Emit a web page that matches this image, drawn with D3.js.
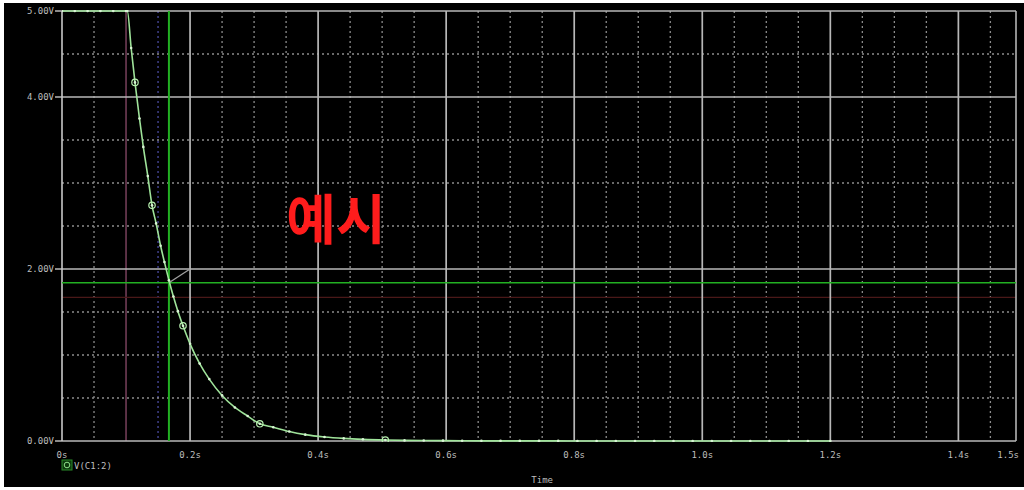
<!DOCTYPE html>
<html>
<head>
<meta charset="utf-8">
<script src="https://cdn.jsdelivr.net/npm/d3@7"></script>
<style>
  html, body { margin: 0; padding: 0; background: #fff; }
  svg { display: block; }
</style>
</head>
<body>
<svg id="chart" width="1024" height="490"></svg>
<script>
// Transient trace V(C1:2): capacitor discharge after the switch at ~0.1 s
const traceTime = [0, 0.02, 0.04, 0.06, 0.08, 0.1, 0.102, 0.108, 0.114, 0.121, 0.127, 0.134,
  0.1406, 0.147, 0.154, 0.160, 0.167, 0.174, 0.181, 0.189, 0.2, 0.215, 0.23, 0.25, 0.27,
  0.29, 0.309, 0.33, 0.355, 0.38, 0.41, 0.44, 0.47, 0.505, 0.535, 0.565, 0.595, 0.625,
  0.655, 0.685, 0.715, 0.745, 0.775, 0.805, 0.835, 0.865, 0.895, 0.925, 0.955, 0.985,
  1.015, 1.045, 1.075, 1.105, 1.135, 1.165, 1.2];
const traceVolt = [5.0, 5.0, 5.0, 5.0, 5.0, 5.0, 5.0, 4.57, 4.17, 3.75, 3.42, 3.08,
  2.74, 2.53, 2.27, 2.08, 1.87, 1.68, 1.51, 1.34, 1.13, 0.90, 0.72, 0.53, 0.39,
  0.29, 0.20, 0.16, 0.11, 0.074, 0.047, 0.03, 0.019, 0.011, 0.007, 0.005, 0.004, 0.003,
  0.002, 0.002, 0.001, 0.001, 0.001, 0, 0, 0, 0, 0, 0, 0,
  0, 0, 0, 0, 0, 0, 0];
// Symbol markers placed along the trace (time values)
const markerTime = [0.114, 0.1406, 0.189, 0.309, 0.505];

// Axis ticks
const xTickValues = [0, 0.2, 0.4, 0.6, 0.8, 1.0, 1.2, 1.4, 1.49];
const xTickLabels = ["0s", "0.2s", "0.4s", "0.6s", "0.8s", "1.0s", "1.2s", "1.4s", "1.5s"];
const yTickValues = [0, 2, 4, 5];
const yTickLabels = ["0.00V", "2.00V", "4.00V", "5.00V"];
const xGridStep = 0.05;
const yGridStep = 0.5;

// Probe cursors
const cursorTime = 0.167;
const cursorVolt = 1.84;
const cursorTagTime = 0.2;
const cursorTagVolt = 2.0;
const refCursorTime = 0.1;
const refCursorVolt = 1.67;
const auxGridTime = 0.15;

const traceName = "V(C1:2)";
const axisTitle = "Time";
const noteText = "예시";

const svg = d3.select("#chart");
const W = 1024, H = 490;
const plot = { left: 62, right: 1016, top: 11, bottom: 441 };

const x = d3.scaleLinear().domain([0, 1.49]).range([plot.left, plot.right]);
const y = d3.scaleLinear().domain([0, 5]).range([plot.bottom, plot.top]);

// Screen background
svg.append("rect").attr("x", 4).attr("y", 3).attr("width", W - 4).attr("height", 484)
  .attr("fill", "#000");

svg.append("defs").append("clipPath").attr("id", "plotclip")
  .append("rect").attr("x", plot.left).attr("y", plot.top - 1)
  .attr("width", plot.right - plot.left + 1).attr("height", plot.bottom - plot.top + 2);

const grid = svg.append("g");
const xGrid = d3.range(0, 1.49, xGridStep).map(v => +v.toFixed(2));
const yGrid = d3.range(0, 5.01, yGridStep).map(v => +v.toFixed(2));
const isMajorX = v => Math.abs(v / 0.2 - Math.round(v / 0.2)) < 1e-6;
const isMajorY = v => yTickValues.includes(v);

// Minor dotted grid
grid.selectAll("line.vx").data(xGrid.filter(v => !isMajorX(v))).join("line")
  .attr("x1", d => x(d)).attr("x2", d => x(d))
  .attr("y1", plot.top).attr("y2", plot.bottom)
  .attr("stroke", d => Math.abs(d - refCursorTime) < 1e-6 ? "#8a4a6a"
                    : Math.abs(d - auxGridTime) < 1e-6 ? "#4a4aa0" : "#8c8c8c")
  .attr("stroke-width", 1.3)
  .attr("stroke-dasharray", d => Math.abs(d - refCursorTime) < 1e-6 ? null : "2,3");
grid.selectAll("line.hy").data(yGrid.filter(v => !isMajorY(v))).join("line")
  .attr("x1", plot.left).attr("x2", plot.right)
  .attr("y1", d => y(d)).attr("y2", d => y(d))
  .attr("stroke", "#8c8c8c").attr("stroke-width", 1.3).attr("stroke-dasharray", "2,3");

// Faint reference cursor level
grid.append("line").attr("x1", plot.left).attr("x2", plot.right)
  .attr("y1", y(refCursorVolt)).attr("y2", y(refCursorVolt))
  .attr("stroke", "#4a1818").attr("stroke-width", 1.2);

// Major solid grid
grid.selectAll("line.mx").data(xGrid.filter(isMajorX).filter(v => v > 0)).join("line")
  .attr("x1", d => x(d)).attr("x2", d => x(d))
  .attr("y1", plot.top).attr("y2", plot.bottom)
  .attr("stroke", "#b8b8b8").attr("stroke-width", 1.7);
grid.selectAll("line.my").data(yTickValues).join("line")
  .attr("x1", plot.left).attr("x2", plot.right)
  .attr("y1", d => y(d)).attr("y2", d => y(d))
  .attr("stroke", "#b8b8b8").attr("stroke-width", 1.7);

// Plot frame
grid.append("line").attr("x1", plot.left).attr("x2", plot.left)
  .attr("y1", plot.top).attr("y2", plot.bottom).attr("stroke", "#c8c8c8").attr("stroke-width", 1.6);
grid.append("line").attr("x1", plot.right).attr("x2", plot.right)
  .attr("y1", plot.top).attr("y2", plot.bottom).attr("stroke", "#b4b4b4").attr("stroke-width", 1.6);

// Axis tick labels (the last one sits flush with the right edge of the plot)
const labelFont = "'DejaVu Sans Mono', monospace";
const lastX = xTickValues.length - 1;
svg.append("g").selectAll("text").data(xTickValues).join("text")
  .attr("x", (d, i) => i === lastX ? plot.right + 3 : x(d)).attr("y", 458)
  .attr("text-anchor", (d, i) => i === lastX ? "end" : "middle")
  .attr("font-family", labelFont).attr("font-size", 9).attr("fill", "#bdbdbd")
  .text((d, i) => xTickLabels[i]);
const yAxisG = svg.append("g");
yAxisG.selectAll("text").data(yTickValues).join("text")
  .attr("x", 54).attr("y", d => y(d) + 3)
  .attr("text-anchor", "end")
  .attr("font-family", labelFont).attr("font-size", 9).attr("fill", "#bdbdbd")
  .text((d, i) => yTickLabels[i]);
yAxisG.selectAll("line").data(yTickValues).join("line")
  .attr("x1", 55).attr("x2", plot.left).attr("y1", d => y(d)).attr("y2", d => y(d))
  .attr("stroke", "#c8c8c8").attr("stroke-width", 1.4);

svg.append("text").attr("x", x(0.75)).attr("y", 483).attr("text-anchor", "middle")
  .attr("font-family", labelFont).attr("font-size", 9).attr("fill", "#bdbdbd")
  .text(axisTitle);

// Cursors
const cur = svg.append("g").attr("clip-path", "url(#plotclip)");
cur.append("line").attr("x1", x(cursorTime)).attr("x2", x(cursorTime))
  .attr("y1", plot.top).attr("y2", plot.bottom)
  .attr("stroke", "#22b022").attr("stroke-width", 2);
cur.append("line").attr("x1", plot.left).attr("x2", plot.right)
  .attr("y1", y(cursorVolt)).attr("y2", y(cursorVolt))
  .attr("stroke", "#22b022").attr("stroke-width", 1.6);
cur.append("line").attr("x1", x(cursorTime)).attr("y1", y(cursorVolt))
  .attr("x2", x(cursorTagTime)).attr("y2", y(cursorTagVolt))
  .attr("stroke", "#a0a0a0").attr("stroke-width", 1.3);

// Trace
const pts = traceTime.map((t, i) => [t, traceVolt[i]]);
const line = d3.line().x(d => x(d[0])).y(d => y(d[1])).curve(d3.curveMonotoneX);
const tr = svg.append("g").attr("clip-path", "url(#plotclip)");
tr.append("path").datum(pts).attr("d", line)
  .attr("fill", "none").attr("stroke", "#9fe39a").attr("stroke-width", 1.6);
tr.selectAll("circle.pt").data(pts).join("circle")
  .attr("cx", d => x(d[0])).attr("cy", d => y(d[1])).attr("r", 1.3)
  .attr("fill", "#d8f4d4");
tr.selectAll("circle.mk").data(markerTime.map(t => pts[traceTime.indexOf(t)])).join("circle")
  .attr("cx", d => x(d[0])).attr("cy", d => y(d[1])).attr("r", 3.2)
  .attr("fill", "none").attr("stroke", "#b8f0b0").attr("stroke-width", 1.2);

// Legend
const lg = svg.append("g").attr("transform", "translate(67,465)");
lg.append("rect").attr("x", -5).attr("y", -5).attr("width", 10).attr("height", 10)
  .attr("fill", "#0d3a0d").attr("stroke", "#2a8a2a").attr("stroke-width", 1);
lg.append("circle").attr("r", 2.8).attr("fill", "none").attr("stroke", "#8fe08a").attr("stroke-width", 1);
lg.append("text").attr("x", 7).attr("y", 3.5)
  .attr("font-family", labelFont).attr("font-size", 9).attr("fill", "#bdbdbd")
  .text(traceName);

// Annotation
svg.append("text").attr("x", 336).attr("y", 240).attr("text-anchor", "middle")
  .attr("font-family", "'Noto Sans CJK KR', sans-serif").attr("font-weight", 700)
  .attr("font-size", 54).attr("fill", "#ff1c1c")
  .text(noteText);
</script>
</body>
</html>
